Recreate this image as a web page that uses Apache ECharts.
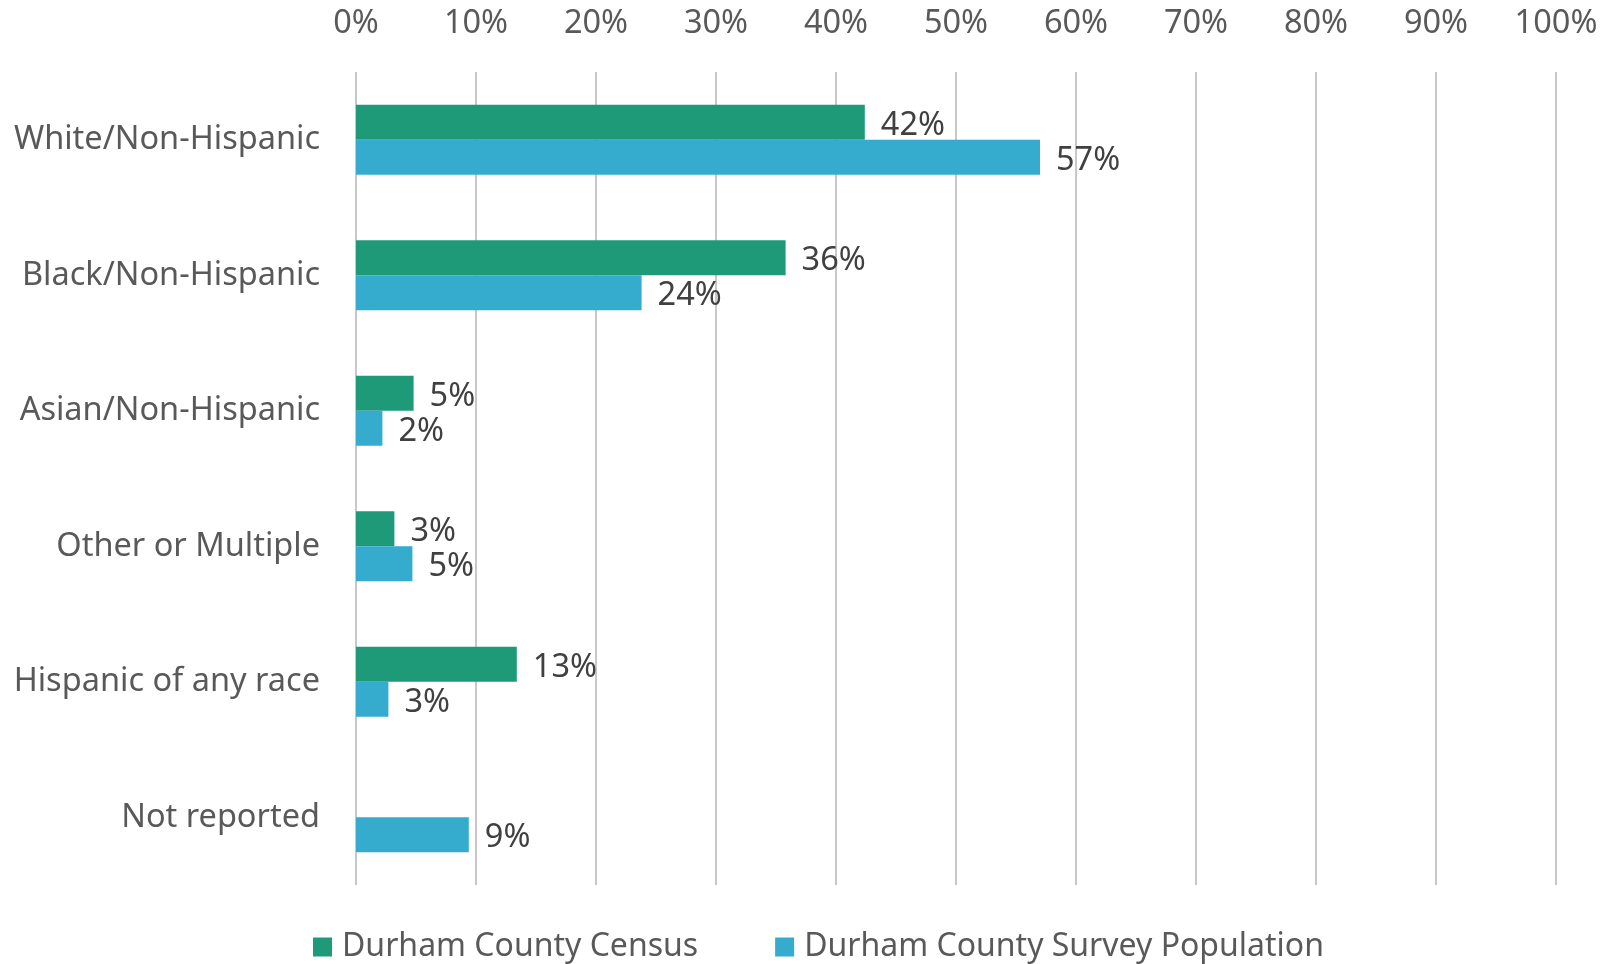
<!DOCTYPE html>
<html>
<head>
<meta charset="utf-8">
<script src="https://cdn.jsdelivr.net/npm/echarts@6/dist/echarts.min.js"></script>
<style>html,body{margin:0;padding:0;background:#fff;}#c{width:1618px;height:964px;}</style>
</head>
<body>
<div id="c"></div>
<script>
const categories = ["White/Non-Hispanic", "Black/Non-Hispanic", "Asian/Non-Hispanic", "Other or Multiple", "Hispanic of any race", "Not reported"];
const seriesNames = ["Durham County Census", "Durham County Survey Population"];
const censusValues = [42.4, 35.8, 4.8, 3.2, 13.4, null];
const surveyValues = [57.0, 23.8, 2.2, 4.7, 2.7, 9.4];
const tickValues = [0, 100, 10];

const FONT = "Noto Sans";
const TXT = "#595959";
const chart = echarts.init(document.getElementById('c'), null, {renderer: 'canvas'});
const labelCfg = {
  show: true, position: 'right', distance: 16, offset: [0, 3],
  formatter: p => p.value == null ? '' : Math.round(p.value) + '%',
  color: '#404040', fontFamily: FONT, fontSize: 32.5
};
chart.setOption({
  animation: false,
  textStyle: {fontFamily: FONT},
  grid: {left: 356, right: 62, top: 72, bottom: 79, containLabel: false},
  legend: {
    data: seriesNames, left: 308, top: 926, itemWidth: 19, itemHeight: 19, itemGap: 77,
    icon: 'rect',
    textStyle: {color: TXT, fontFamily: FONT, fontSize: 32, padding: [2, 0, 0, 5]}
  },
  xAxis: {
    type: 'value', position: 'top', min: tickValues[0], max: tickValues[1], interval: tickValues[2],
    axisLine: {show: false}, axisTick: {show: false},
    axisLabel: {formatter: '{value}%', color: TXT, fontFamily: FONT, fontSize: 32.5, margin: 32},
    splitLine: {show: true, lineStyle: {color: '#c8c8c8', width: 2}}
  },
  yAxis: {
    type: 'category', data: categories, inverse: true,
    axisLine: {show: false}, axisTick: {show: false},
    axisLabel: {color: TXT, fontFamily: FONT, fontSize: 32.5, margin: 36, padding: [6, 0, 0, 0]}
  },
  series: [
    {name: seriesNames[0], type: 'bar', data: censusValues, barWidth: 35, barGap: '0%',
     itemStyle: {color: '#1F9A78'}, label: labelCfg},
    {name: seriesNames[1], type: 'bar', data: surveyValues, barWidth: 35, barGap: '0%',
     itemStyle: {color: '#35ACCE'}, label: labelCfg}
  ]
});
</script>
</body>
</html>
